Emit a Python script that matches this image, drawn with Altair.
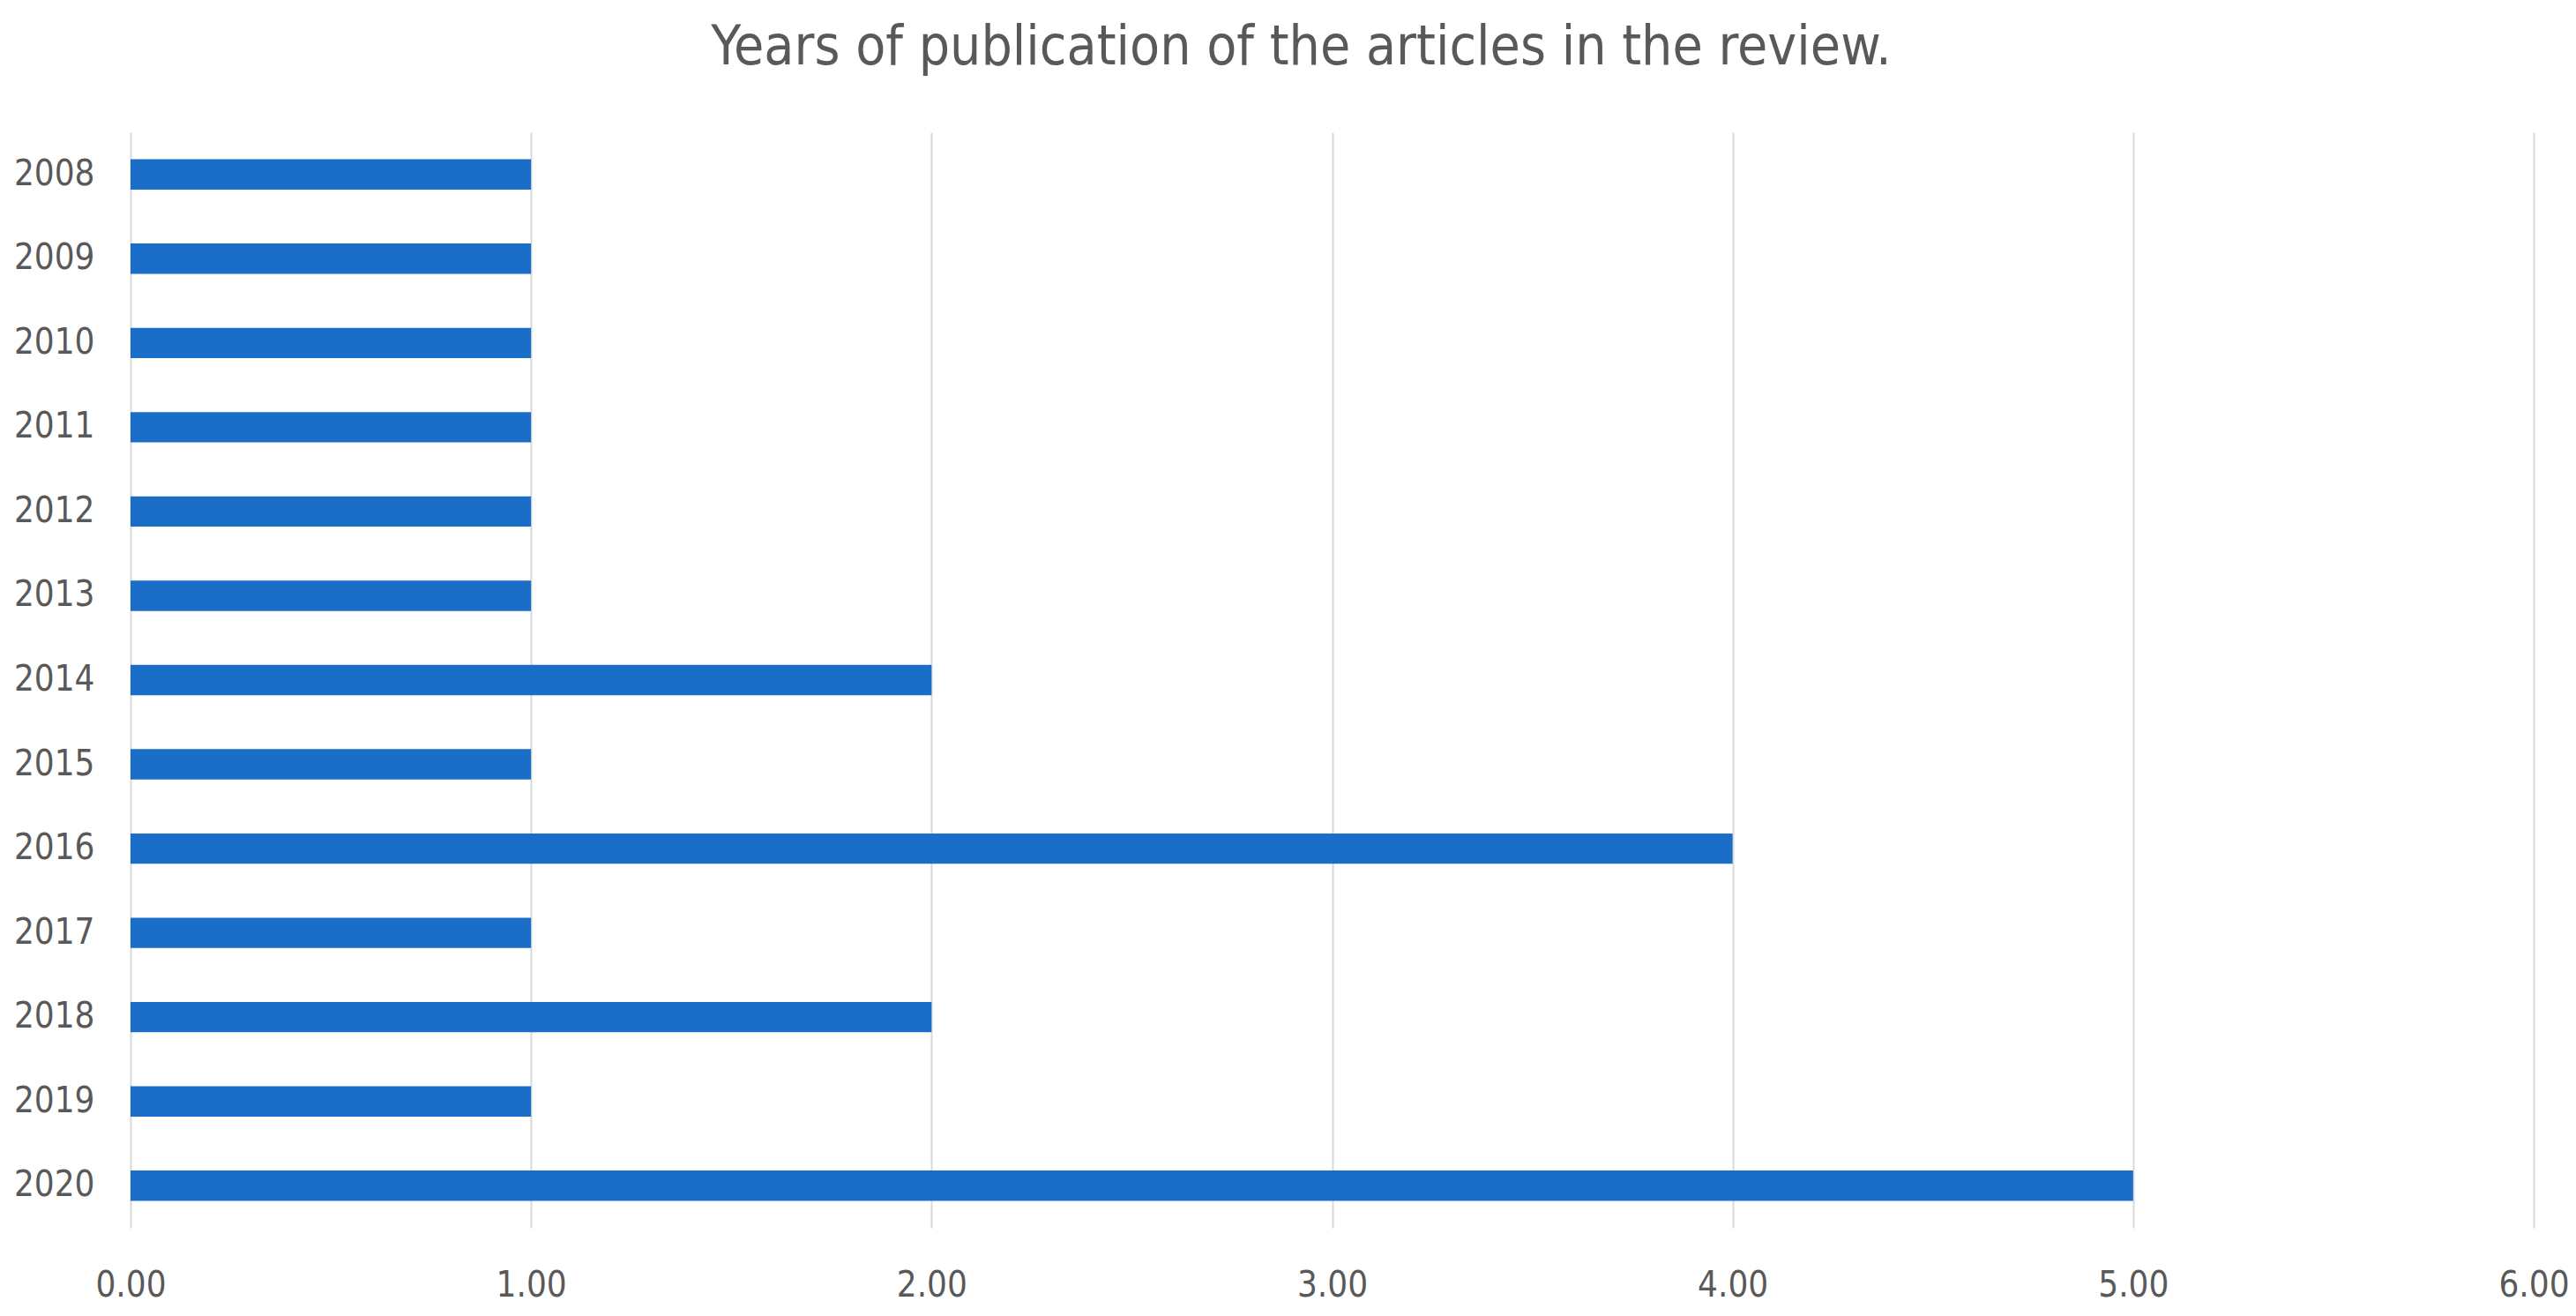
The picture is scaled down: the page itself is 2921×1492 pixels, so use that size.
import altair as alt
import pandas as pd

years = ["2008", "2009", "2010", "2011", "2012", "2013", "2014",
         "2015", "2016", "2017", "2018", "2019", "2020"]
counts = [1, 1, 1, 1, 1, 1, 2, 1, 4, 1, 2, 1, 5]
x_ticks = [0, 1, 2, 3, 4, 5, 6]

df = pd.DataFrame({"year": years, "count": counts})

FONT = "DejaVu Sans Condensed, Noto Sans, sans-serif"
TEXT = "#595959"

chart = alt.Chart(df).mark_bar(color="#1a6ec8").encode(
    y=alt.Y("year:N", sort=years, title=None,
            scale=alt.Scale(paddingInner=0.64, paddingOuter=0.32),
            axis=alt.Axis(labelFont=FONT, labelFontSize=40, labelColor=TEXT,
                          labelPadding=41, ticks=False, domain=False, grid=False)),
    x=alt.X("count:Q", title=None,
            scale=alt.Scale(domain=[0, 6], nice=False),
            axis=alt.Axis(values=x_ticks, format=".2f", labelFont=FONT,
                          labelFontSize=40, labelColor=TEXT, labelPadding=45,
                          labelFlush=False, labelOverlap=False,
                          ticks=False, domain=False, grid=True,
                          gridColor="#d9d9d9", gridWidth=2)),
).properties(
    width=2725,
    height=1242,
    title=alt.TitleParams("Years of publication of the articles in the review.",
                          font=FONT, fontSize=62, fontWeight="normal",
                          color=TEXT, anchor="middle", frame="group",
                          baseline="alphabetic", offset=15, dx=-35),
    padding={"left": 140, "top": 142, "right": 40, "bottom": 100},
    autosize=alt.AutoSizeParams(type="none"),
).configure_view(stroke=None)

chart.save("out.html", embed_options={"renderer": "svg", "actions": False})
